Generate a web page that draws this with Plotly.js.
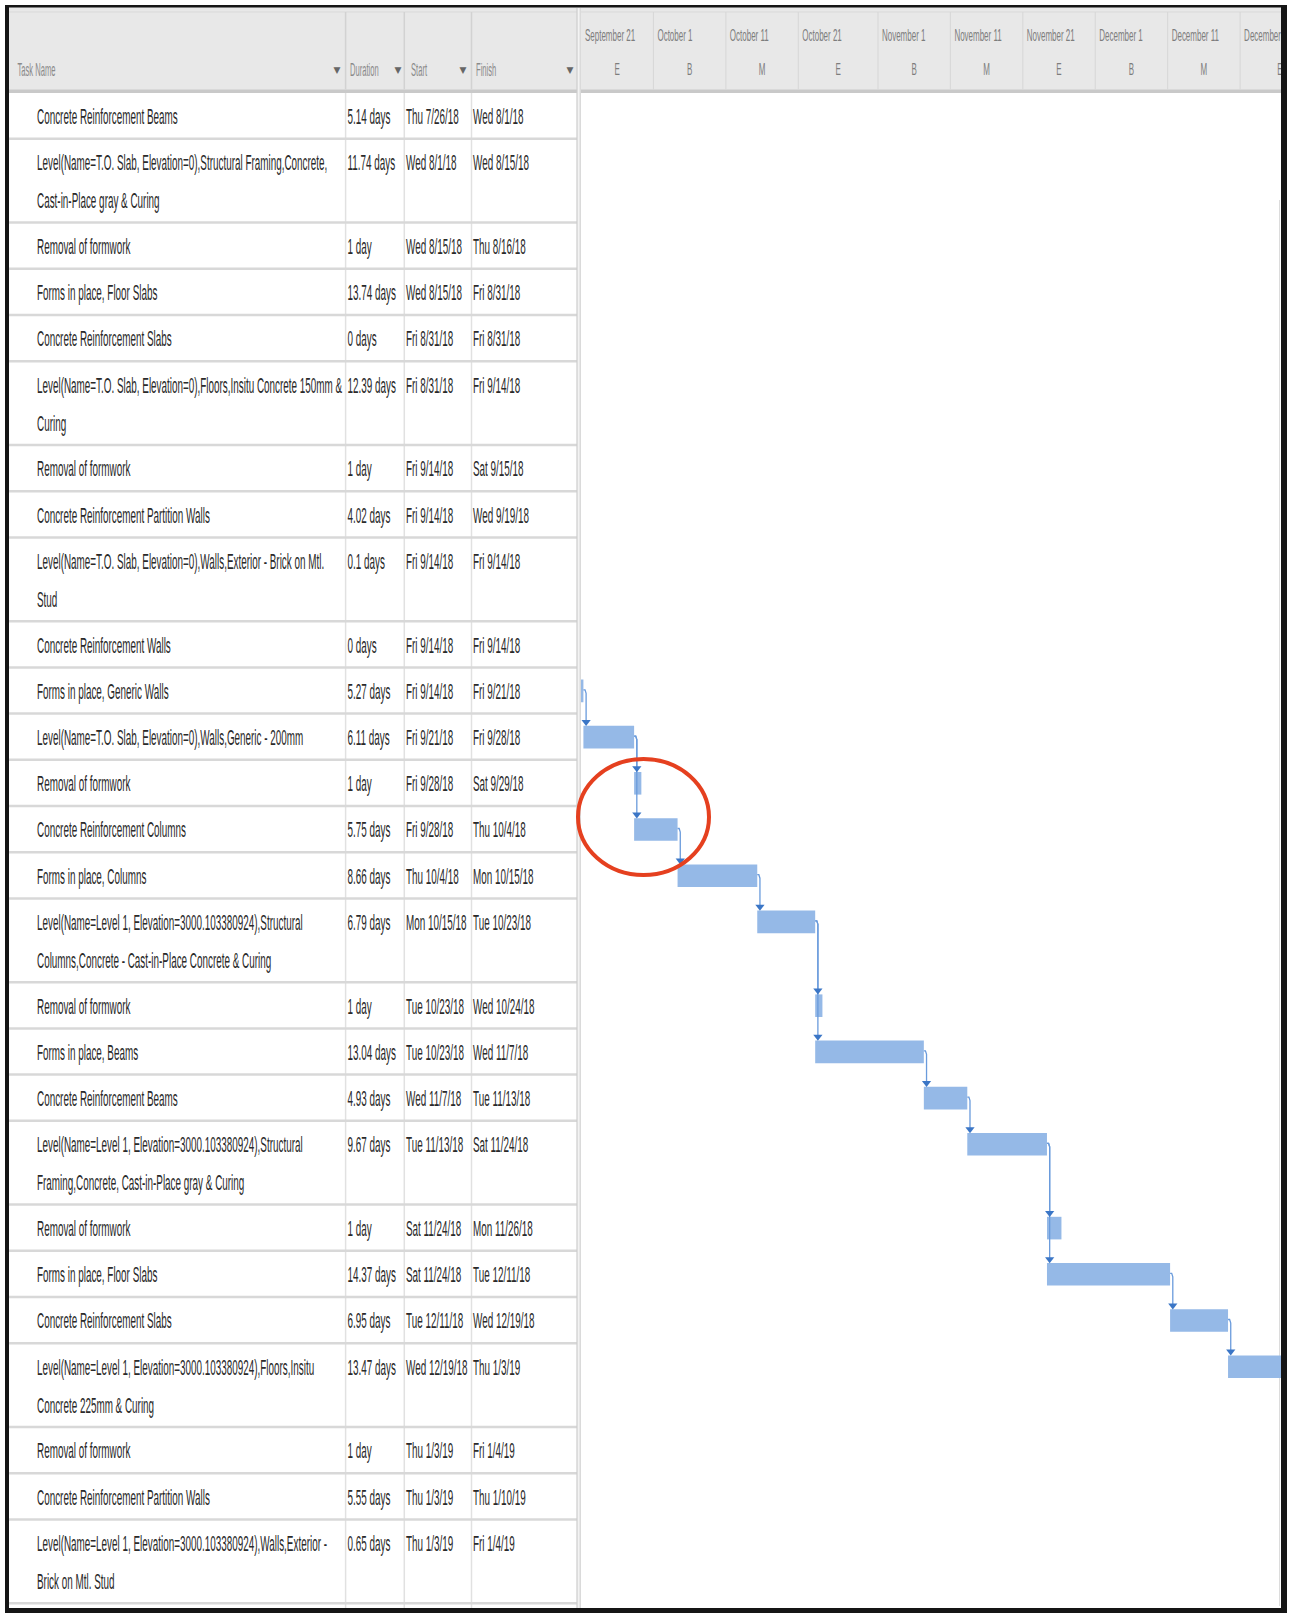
<!DOCTYPE html>
<html>
<head>
<meta charset="utf-8">
<script src="https://cdn.plot.ly/plotly-3.0.1.min.js"></script>
<style>
html,body{margin:0;padding:0;background:#ffffff;}
#chart{width:1290px;height:1613px;}
</style>
</head>
<body>
<div id="chart"></div>
<script>
// ---------------- DATA ----------------
const taskNames = [
  "Concrete Reinforcement Beams",
  "Level(Name=T.O. Slab, Elevation=0),Structural Framing,Concrete,\nCast-in-Place gray & Curing",
  "Removal of formwork",
  "Forms in place, Floor Slabs",
  "Concrete Reinforcement Slabs",
  "Level(Name=T.O. Slab, Elevation=0),Floors,Insitu Concrete 150mm &\nCuring",
  "Removal of formwork",
  "Concrete Reinforcement Partition Walls",
  "Level(Name=T.O. Slab, Elevation=0),Walls,Exterior - Brick on Mtl.\nStud",
  "Concrete Reinforcement Walls",
  "Forms in place, Generic Walls",
  "Level(Name=T.O. Slab, Elevation=0),Walls,Generic - 200mm",
  "Removal of formwork",
  "Concrete Reinforcement Columns",
  "Forms in place, Columns",
  "Level(Name=Level 1, Elevation=3000.103380924),Structural\nColumns,Concrete - Cast-in-Place Concrete & Curing",
  "Removal of formwork",
  "Forms in place, Beams",
  "Concrete Reinforcement Beams",
  "Level(Name=Level 1, Elevation=3000.103380924),Structural\nFraming,Concrete, Cast-in-Place gray & Curing",
  "Removal of formwork",
  "Forms in place, Floor Slabs",
  "Concrete Reinforcement Slabs",
  "Level(Name=Level 1, Elevation=3000.103380924),Floors,Insitu\nConcrete 225mm & Curing",
  "Removal of formwork",
  "Concrete Reinforcement Partition Walls",
  "Level(Name=Level 1, Elevation=3000.103380924),Walls,Exterior -\nBrick on Mtl. Stud"
];
const durations = [
  "5.14 days","11.74 days","1 day","13.74 days","0 days","12.39 days","1 day","4.02 days","0.1 days",
  "0 days","5.27 days","6.11 days","1 day","5.75 days","8.66 days","6.79 days","1 day","13.04 days",
  "4.93 days","9.67 days","1 day","14.37 days","6.95 days","13.47 days","1 day","5.55 days","0.65 days"
];
const startDates = [
  "Thu 7/26/18","Wed 8/1/18","Wed 8/15/18","Wed 8/15/18","Fri 8/31/18","Fri 8/31/18","Fri 9/14/18","Fri 9/14/18","Fri 9/14/18",
  "Fri 9/14/18","Fri 9/14/18","Fri 9/21/18","Fri 9/28/18","Fri 9/28/18","Thu 10/4/18","Mon 10/15/18","Tue 10/23/18","Tue 10/23/18",
  "Wed 11/7/18","Tue 11/13/18","Sat 11/24/18","Sat 11/24/18","Tue 12/11/18","Wed 12/19/18","Thu 1/3/19","Thu 1/3/19","Thu 1/3/19"
];
const finishDates = [
  "Wed 8/1/18","Wed 8/15/18","Thu 8/16/18","Fri 8/31/18","Fri 8/31/18","Fri 9/14/18","Sat 9/15/18","Wed 9/19/18","Fri 9/14/18",
  "Fri 9/14/18","Fri 9/21/18","Fri 9/28/18","Sat 9/29/18","Thu 10/4/18","Mon 10/15/18","Tue 10/23/18","Wed 10/24/18","Wed 11/7/18",
  "Tue 11/13/18","Sat 11/24/18","Mon 11/26/18","Tue 12/11/18","Wed 12/19/18","Thu 1/3/19","Fri 1/4/19","Thu 1/10/19","Fri 1/4/19"
];
// predecessor -> successor (task row numbers, 1-based)
const links = [[11,12],[12,13],[12,14],[14,15],[15,16],[16,17],[16,18],[18,19],[19,20],[20,21],[20,22],[22,23],[23,24]];
const columnHeaders = ["Task Name","Duration","Start","Finish"];
const timescaleLabels = ["September 21","October 1","October 11","October 21","November 1","November 11","November 21","December 1","December 11","December 21"];
const timescaleThirds = ["E","B","M","E","B","M","E","B","M","E"];
const timescaleYear = 2018;

// ---------------- LAYOUT CONSTANTS ----------------
const W = 1290, H = 1613;
const DAY = 86400000;
const PX_PER_DAY = 7.243;
const MS_PER_PX = DAY / PX_PER_DAY;
const GX0 = 581, GX1 = 1281;          // gantt pane
const TBL_R = 577;                     // table right edge
const ROW_TOP0 = 92.6, ROW_H1 = 46.2, ROW_H2 = 83.8, LINE1 = 23.5, LINE_GAP = 38.3;
const BAR_H = 22.6;
const TEXT_DY = 1;
const COL_LINES = [345.6, 404.3, 471.5];
const COL_TEXT_X = [37, 347.5, 406, 473];
const HDR_TEXT_X = [17.5, 350, 411, 476];
const HDR_ARROW_X = [337, 398, 463, 570];
const FONT = "'Liberation Sans', Arial, sans-serif";
// squeezed screenshot font: small font size, stretched vertically afterwards
const BODY_FS = 9.9, HDR_FS = 7.6, TS_FS = 8.0;
const STRETCH = {"9.9": 22 / 9.9, "7.6": 18 / 7.6, "8.0": 16 / 8.0};

const monthNames = ["January","February","March","April","May","June","July","August","September","October","November","December"];
function parseTaskDate(s) {
  const p = s.trim().split(" ").pop().split("/");
  return Date.UTC(2000 + Number(p[2]), Number(p[0]) - 1, Number(p[1]), 8);
}
function parseTsLabel(s) {
  const parts = s.split(" ");
  return Date.UTC(timescaleYear, monthNames.indexOf(parts[0]), Number(parts[1]));
}
function fmt(ms) {
  const d = new Date(ms), z = n => String(n).padStart(2, "0");
  return d.getUTCFullYear() + "-" + z(d.getUTCMonth() + 1) + "-" + z(d.getUTCDate()) + " " +
         z(d.getUTCHours()) + ":" + z(d.getUTCMinutes()) + ":" + z(d.getUTCSeconds());
}

// rows
const rowTop = [], rowBottom = [], rowLines = [];
let yy = ROW_TOP0;
taskNames.forEach((n) => {
  const lines = n.split("\n");
  rowLines.push(lines);
  rowTop.push(yy);
  yy += lines.length > 1 ? ROW_H2 : ROW_H1;
  rowBottom.push(yy);
});
const barCenter = rowTop.map(t => t + LINE1);
const startMs = startDates.map(parseTaskDate);
const finishMs = finishDates.map(parseTaskDate);

// timescale
const tsMs = timescaleLabels.map(parseTsLabel);
const tsEnd = tsMs.map((m, i) => {
  if (i + 1 < tsMs.length) return tsMs[i + 1];
  const d = new Date(m);
  const day = d.getUTCDate();
  return day >= 21 ? Date.UTC(d.getUTCFullYear(), d.getUTCMonth() + 1, 1) : Date.UTC(d.getUTCFullYear(), d.getUTCMonth(), day + 10);
});
const rangeStart = tsMs[0];
const rangeEnd = rangeStart + (GX1 - GX0) * MS_PER_PX;

// ---------------- TRACES ----------------
const traces = [];

// table body text
const tx = [], ty = [], tt = [];
rowLines.forEach((lines, i) => {
  lines.forEach((ln, j) => { tx.push(COL_TEXT_X[0]); ty.push(barCenter[i] + TEXT_DY + j * LINE_GAP); tt.push(ln); });
  tx.push(COL_TEXT_X[1]); ty.push(barCenter[i] + TEXT_DY); tt.push(durations[i]);
  tx.push(COL_TEXT_X[2]); ty.push(barCenter[i] + TEXT_DY); tt.push(startDates[i]);
  tx.push(COL_TEXT_X[3]); ty.push(barCenter[i] + TEXT_DY); tt.push(finishDates[i]);
});
traces.push({
  type: "scatter", mode: "text", xaxis: "x2", yaxis: "y",
  x: tx, y: ty, text: tt, textposition: "middle right",
  textfont: {family: FONT, size: BODY_FS, color: "#2a2a2a"},
  hoverinfo: "skip", showlegend: false, cliponaxis: false
});
// table header
traces.push({
  type: "scatter", mode: "text", xaxis: "x2", yaxis: "y",
  x: HDR_TEXT_X, y: columnHeaders.map(() => 70), text: columnHeaders, textposition: "middle right",
  textfont: {family: FONT, size: HDR_FS, color: "#8a8a8a"},
  hoverinfo: "skip", showlegend: false, cliponaxis: false
});
traces.push({
  type: "scatter", mode: "text", xaxis: "x2", yaxis: "y",
  x: HDR_ARROW_X, y: HDR_ARROW_X.map(() => 71), text: HDR_ARROW_X.map(() => "\u25BC"), textposition: "middle center",
  textfont: {family: "DejaVu Sans, sans-serif", size: 9, color: "#666666"},
  hoverinfo: "skip", showlegend: false, cliponaxis: false
});

// gantt bars
traces.push({
  type: "bar", orientation: "h", xaxis: "x", yaxis: "y",
  base: startMs.map(fmt),
  x: startMs.map((s, i) => finishMs[i] - s),
  y: barCenter, width: BAR_H,
  marker: {color: "#95b9e7", line: {width: 0}},
  hoverinfo: "skip", showlegend: false
});

// links
const lx = [], ly = [], ax = [], ay = [];
links.forEach(([p, s]) => {
  const i = p - 1, j = s - 1;
  const xf = finishMs[i], yc = barCenter[i];
  const xa = xf + 2.7 * MS_PER_PX;
  const topS = barCenter[j] - BAR_H / 2;
  lx.push(fmt(xf), fmt(xf + 1.6 * MS_PER_PX), fmt(xa), fmt(xa), null);
  ly.push(yc - 1, yc - 1, yc + 2.5, topS - 5, null);
  ax.push(fmt(xa)); ay.push(topS - 3.8);
});
traces.push({
  type: "scatter", mode: "lines", xaxis: "x", yaxis: "y",
  x: lx, y: ly, line: {color: "#6a9bdc", width: 1.3}, connectgaps: false,
  hoverinfo: "skip", showlegend: false
});
traces.push({
  type: "scatter", mode: "markers", xaxis: "x", yaxis: "y",
  x: ax, y: ay, marker: {symbol: "triangle-down", size: 8, color: "#3b76c6", line: {width: 0}},
  hoverinfo: "skip", showlegend: false
});

// timescale header labels
traces.push({
  type: "scatter", mode: "text", xaxis: "x", yaxis: "y",
  x: tsMs.map(m => fmt(m + 4 * MS_PER_PX)), y: tsMs.map(() => 36), text: timescaleLabels,
  textposition: "middle right",
  textfont: {family: FONT, size: TS_FS, color: "#7d7d7d"},
  hoverinfo: "skip", showlegend: false, cliponaxis: true
});
traces.push({
  type: "scatter", mode: "text", xaxis: "x", yaxis: "y",
  x: tsMs.map((m, i) => fmt((m + tsEnd[i]) / 2)), y: tsMs.map(() => 70), text: timescaleThirds,
  textposition: "middle center",
  textfont: {family: FONT, size: TS_FS, color: "#7d7d7d"},
  hoverinfo: "skip", showlegend: false, cliponaxis: true
});

// ---------------- SHAPES ----------------
const shapes = [];
const px = v => v / W;
function rect(x0, x1, y0, y1, fill, layer) {
  shapes.push({type: "rect", xref: "paper", yref: "y", x0: px(x0), x1: px(x1), y0: y0, y1: y1,
    fillcolor: fill, line: {width: 0}, layer: layer || "below"});
}
function hline(x0, x1, y, color, w, layer) {
  shapes.push({type: "line", xref: "paper", yref: "y", x0: px(x0), x1: px(x1), y0: y, y1: y,
    line: {color: color, width: w}, layer: layer || "below"});
}
function vline(x, y0, y1, color, w, layer) {
  shapes.push({type: "line", xref: "paper", yref: "y", x0: px(x), x1: px(x), y0: y0, y1: y1,
    line: {color: color, width: w}, layer: layer || "below"});
}
// header
rect(9, GX1, 7, 90, "#e8e8e8");
hline(9, GX1, 12, "#d9d9d9", 1);
rect(9, GX1, 89.5, 93, "#c9c9c9");
COL_LINES.forEach(x => vline(x, 12, 89.5, "#d2d2d2", 1.5));
vline(TBL_R + 1, 12, 89.5, "#d2d2d2", 1.5);
tsMs.slice(1).forEach(m => shapes.push({type: "line", xref: "x", yref: "y", x0: fmt(m), x1: fmt(m), y0: 12, y1: 89.5,
  line: {color: "#d6d6d6", width: 1}, layer: "below"}));
// table grid
COL_LINES.forEach(x => vline(x, 93, 1608, "#e1e1e1", 1.5));
rowBottom.forEach(b => hline(9, TBL_R, b, "#d8d8d8", 2.5));
// table / gantt separator
rect(TBL_R, GX0, 8, 1608, "#f3f3f3");
vline(TBL_R, 8, 1608, "#cdcdcd", 1.2);
vline(GX0 - 0.8, 8, 1608, "#d4d4d4", 1.2);
// right scrollbar edge
vline(1279.5, 200, 1606, "#dcdcdc", 1);
// frame
rect(5, 1287, 5, 7.5, "#151515", "above");
rect(5, 9, 5, 1613, "#151515", "above");
rect(GX1, 1287, 5, 1613, "#151515", "above");
rect(5, 1287, 1608, 1613, "#151515", "above");
// red highlight ellipse
shapes.push({type: "circle", xref: "paper", yref: "y", x0: px(578), x1: px(709), y0: 759, y1: 875,
  line: {color: "#e5401f", width: 4}, fillcolor: "rgba(0,0,0,0)", layer: "above"});

// ---------------- LAYOUT ----------------
const layout = {
  width: W, height: H,
  margin: {l: 0, r: 0, t: 0, b: 0, pad: 0},
  paper_bgcolor: "#ffffff", plot_bgcolor: "rgba(0,0,0,0)",
  showlegend: false,
  barmode: "overlay",
  xaxis: {type: "date", domain: [GX0 / W, GX1 / W], range: [fmt(rangeStart), fmt(rangeEnd)],
    visible: false, fixedrange: true, anchor: "y"},
  xaxis2: {type: "linear", domain: [0, TBL_R / W], range: [0, TBL_R], visible: false, fixedrange: true, anchor: "y"},
  yaxis: {type: "linear", domain: [0, 1], range: [H, 0], visible: false, fixedrange: true, anchor: "x"},
  shapes: shapes
};

Plotly.newPlot("chart", traces, layout, {staticPlot: true, displayModeBar: false}).then(gd => {
  // stretch the small text vertically to mimic the horizontally squeezed screenshot font
  gd.querySelectorAll(".textpoint text").forEach(t => {
    const fs = parseFloat(t.style.fontSize);
    const s = STRETCH[fs.toFixed(1)];
    if (!s) return;
    const y = parseFloat(t.getAttribute("y"));
    const c = y - 0.36 * fs;
    t.setAttribute("transform", "translate(0," + c + ") scale(1," + s + ") translate(0," + (-c) + ")");
  });
});
</script>
</body>
</html>
